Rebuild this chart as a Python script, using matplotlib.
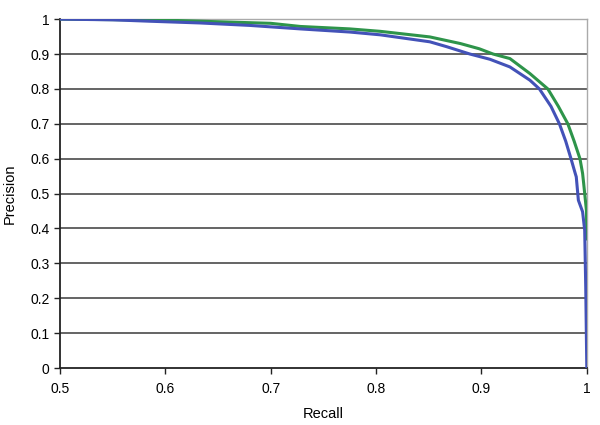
import matplotlib.pyplot as plt

plt.rcParams['font.family'] = ['Liberation Sans', 'DejaVu Sans']

# precision / recall curves
recall_blue = [0.5, 0.55, 0.585, 0.633, 0.68, 0.728, 0.775, 0.804, 0.851, 0.867,
               0.889, 0.908, 0.927, 0.946, 0.955, 0.966, 0.974, 0.980, 0.985,
               0.989, 0.990, 0.992, 0.996, 0.998, 0.999, 1.0]
precision_blue = [1.0, 0.998, 0.994, 0.989, 0.982, 0.972, 0.963, 0.955, 0.935, 0.921,
                  0.900, 0.885, 0.863, 0.825, 0.800, 0.750, 0.700, 0.650, 0.600,
                  0.558, 0.548, 0.481, 0.448, 0.395, 0.23, 0.0]

recall_green = [0.5, 0.6, 0.7, 0.728, 0.775, 0.804, 0.851, 0.880, 0.898, 0.911,
                0.927, 0.946, 0.963, 0.973, 0.982, 0.988, 0.9935, 0.996, 0.997,
                0.9997, 1.0]
precision_green = [1.0, 0.997, 0.988, 0.979, 0.972, 0.965, 0.949, 0.930, 0.915, 0.900,
                   0.887, 0.844, 0.800, 0.750, 0.700, 0.650, 0.600, 0.558, 0.53,
                   0.45, 0.37]

x_ticks = [0.5, 0.6, 0.7, 0.8, 0.9, 1.0]
x_labels = ["0.5", "0.6", "0.7", "0.8", "0.9", "1"]
y_ticks = [0, 0.1, 0.2, 0.3, 0.4, 0.5, 0.6, 0.7, 0.8, 0.9, 1.0]
y_labels = ["0", "0.1", "0.2", "0.3", "0.4", "0.5", "0.6", "0.7", "0.8", "0.9", "1"]

fig = plt.figure(figsize=(6, 4.25), dpi=100)
ax = fig.add_axes([0.1, 0.134, 0.878, 0.821])

# gridlines
for yv in y_ticks[1:-1]:
    ax.axhline(yv, color="#4a4a4a", lw=1.2, zorder=1)

ax.plot(recall_green, precision_green, color="#2e944a", lw=2.2, zorder=3)
ax.plot(recall_blue, precision_blue, color="#4352b8", lw=2.2, zorder=4)

ax.set_xlim(0.5, 1.0)
ax.set_ylim(0, 1.0)
ax.set_xticks(x_ticks)
ax.set_xticklabels(x_labels)
ax.set_yticks(y_ticks)
ax.set_yticklabels(y_labels)
ax.tick_params(axis="both", direction="out", length=4, width=1, labelsize=10, color="#222222")
ax.tick_params(axis="x", pad=6)

for s in ["left", "bottom"]:
    ax.spines[s].set_color("#222222")
    ax.spines[s].set_linewidth(1.3)
for s in ["top", "right"]:
    ax.spines[s].set_color("#aaaaaa")
    ax.spines[s].set_linewidth(1.0)

ax.set_xlabel("Recall", fontsize=10.5, labelpad=8)
ax.set_ylabel("Precision", fontsize=10.5, labelpad=10)

plt.savefig("out.png", dpi=100)
